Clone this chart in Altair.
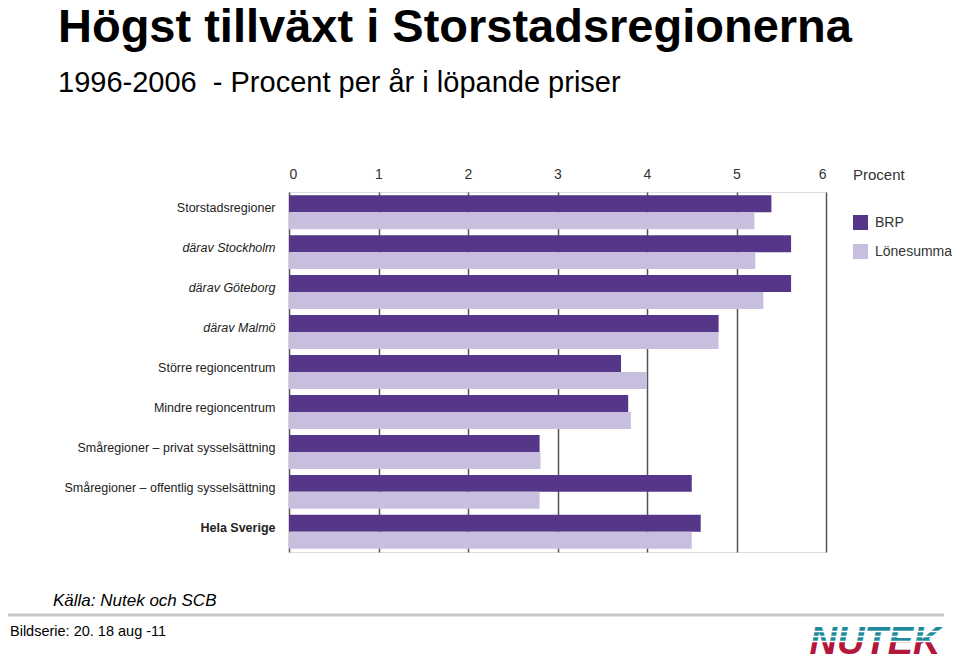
import altair as alt
import pandas as pd

# ---- data ----
regions = [
    "Storstadsregioner",
    "därav Stockholm",
    "därav Göteborg",
    "därav Malmö",
    "Större regioncentrum",
    "Mindre regioncentrum",
    "Småregioner – privat sysselsättning",
    "Småregioner – offentlig sysselsättning",
    "Hela Sverige",
]
brp = [5.39, 5.61, 5.61, 4.80, 3.71, 3.79, 2.80, 4.50, 4.60]
lonesumma = [5.20, 5.21, 5.30, 4.80, 4.00, 3.82, 2.81, 2.80, 4.50]
series = ["BRP", "Lönesumma"]
x_ticks = [0, 1, 2, 3, 4, 5, 6]

title_text = "Högst tillväxt i Storstadsregionerna"
subtitle_text = "1996-2006\u00a0\u00a0- Procent per år i löpande priser"
source_text = "Källa: Nutek och SCB"
footer_text = "Bildserie: 20. 18 aug -11"
logo_text = "NUTEK"

FONT = "Liberation Sans"
DARK = "#553689"
LIGHT = "#c8bedd"

rows = []
for r, b, l in zip(regions, brp, lonesumma):
    rows.append({"region": r, "serie": series[0], "value": b})
    rows.append({"region": r, "serie": series[1], "value": l})
df = pd.DataFrame(rows)

bars = alt.Chart(df).mark_bar().encode(
    x=alt.X(
        "value:Q",
        scale=alt.Scale(domain=[0, 6], nice=False),
        axis=alt.Axis(
            orient="top", values=x_ticks, format="d", title=None,
            grid=True, gridColor="#555555", gridWidth=1.5,
            ticks=False, domain=False, labelFontSize=14, labelColor="#333333",
            labelFont=FONT, labelPadding=11,
        ),
    ),
    y=alt.Y(
        "region:N", sort=regions,
        scale=alt.Scale(paddingInner=0.15, paddingOuter=0.08),
        axis=alt.Axis(
            title=None, ticks=False, domain=False, grid=False,
            labelFontSize=12.5, labelColor="#222222", labelFont=FONT,
            labelPadding=14, labelOffset=-4, labelLimit=400,
            labelFontStyle={"condition": {"test": "indexof(datum.value, 'därav') == 0", "value": "italic"}, "value": "normal"},
            labelFontWeight={"condition": {"test": "datum.value == 'Hela Sverige'", "value": "bold"}, "value": "normal"},
        ),
    ),
    yOffset=alt.YOffset("serie:N", sort=series, scale=alt.Scale(paddingInner=0, paddingOuter=0)),
    color=alt.Color(
        "serie:N",
        scale=alt.Scale(domain=series, range=[DARK, LIGHT]),
        legend=alt.Legend(
            title="Procent", orient="none", legendX=564, legendY=-24,
            titleFont=FONT, titleFontSize=15, titleFontWeight="normal", titleColor="#333333",
            titlePadding=32, labelFont=FONT, labelFontSize=14, labelColor="#333333",
            symbolType="square", symbolSize=225, symbolStrokeWidth=0,
            rowPadding=14, labelOffset=7, padding=0, labelLimit=200,
        ),
    ),
)

def text_layer(txt, x, y, size, weight="normal", style="normal", color="black", align="left"):
    return alt.Chart(pd.DataFrame({"t": [txt]})).mark_text(
        font=FONT, fontSize=size, fontWeight=weight, fontStyle=style,
        color=color, align=align, baseline="alphabetic",
    ).encode(text="t:N", x=alt.value(x), y=alt.value(y))

title = text_layer(title_text, -231, -150, 47, weight="bold")
subtitle = text_layer(subtitle_text, -231, -100, 29)
source = text_layer(source_text, -236, 414, 17, style="italic")
footer = text_layer(footer_text, -279, 444, 14.5)

def hrule(x1, x2, y, color, width):
    return alt.Chart(pd.DataFrame({"a": [0]})).mark_rule(color=color, strokeWidth=width).encode(
        x=alt.value(x1), x2=alt.value(x2), y=alt.value(y)
    )

sep = hrule(-281, 655, 423, "#c8c8c8", 3)

logo_grad = alt.LinearGradient(
    gradient="linear", x1=0, y1=0, x2=0, y2=1,
    stops=[
        alt.GradientStop(offset=0, color="#1f8a9a"),
        alt.GradientStop(offset=0.5, color="#1f8a9a"),
        alt.GradientStop(offset=0.5, color="#b4173c"),
        alt.GradientStop(offset=1, color="#b4173c"),
    ],
)
logo = alt.Chart(pd.DataFrame({"t": [logo_text]})).mark_text(
    font=FONT, fontSize=38, fontWeight="bold", fontStyle="italic",
    fill=logo_grad, align="center", baseline="alphabetic",
).encode(text="t:N", x=alt.value(586), y=alt.value(462))

stripes = [hrule(518, 656, yy, "white", 1.3) for yy in (439.5, 444.5, 449.5)]

chart = alt.layer(bars, title, subtitle, source, footer, sep, logo, *stripes).properties(
    width=537, height=360,
    autosize=alt.AutoSizeParams(type="none"),
    padding={"left": 281, "top": 184, "right": 126, "bottom": 111},
).configure_view(stroke=None).configure(font=FONT)

chart.save("out.html", embed_options={"renderer": "svg", "actions": False})
